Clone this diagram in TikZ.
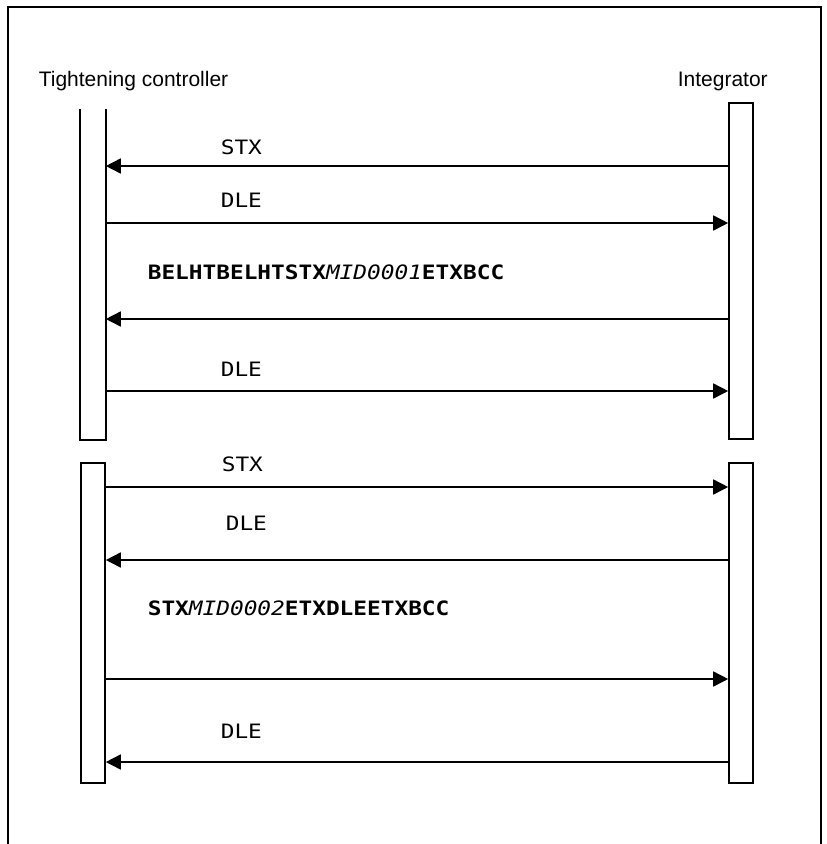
\documentclass[tikz,border=0pt]{standalone}
\usepackage{fontspec}
\setmainfont{Liberation Sans}
\newfontfamily\monof[FakeStretch=1.15]{DejaVu Sans Mono}
\usetikzlibrary{arrows.meta}
\begin{document}
\begin{tikzpicture}[x=1pt,y=-1pt,
  line width=1.6pt,
  lifebox/.style={draw, rectangle, minimum width=24pt, inner sep=0pt, fill=white},
  ghostbox/.style={rectangle, minimum width=24pt, inner sep=0pt},
  msg/.style={-{Triangle[length=15pt,width=15pt]}, line width=1.6pt},
  actor/.style={font=\fontsize{21}{24}\selectfont, anchor=base west, inner sep=0pt},
  lbl/.style={font=\monof\fontsize{19.8}{22}\selectfont, anchor=base west, inner sep=0pt}]
\useasboundingbox (0,0) rectangle (827,844);
% outer frame (open at bottom)
\draw (8,844) -- (8,7) -- (821,7) -- (821,844);
% actors
\node[actor] (tc) at (38,86) {Tightening controller};
\node[actor] (ig) at (677,86) {Integrator};
% activation boxes
\node[ghostbox, minimum height=329pt] (L1) at (93,274.5) {};
\draw (L1.north west) -- (L1.south west) -- (L1.south east) -- (L1.north east);
\node[lifebox, minimum height=336pt] (R1) at (741,271) {};
\node[lifebox, minimum height=320pt] (L2) at (93,623) {};
\node[lifebox, minimum height=320pt] (R2) at (741,623) {};
% messages, first session
\draw[msg] (R1.west |- 0,166) -- (L1.east |- 0,166);
\node[lbl] (m1) at (220,154) {STX};
\draw[msg] (L1.east |- 0,223) -- (R1.west |- 0,223);
\node[lbl] (m2) at (220,207) {DLE};
\node[lbl] (m3) at (147,279) {\textbf{BELHTBELHTSTX}\textit{MID0001}\textbf{ETXBCC}};
\draw[msg] (R1.west |- 0,319) -- (L1.east |- 0,319);
\node[lbl] (m4) at (220,376) {DLE};
\draw[msg] (L1.east |- 0,391) -- (R1.west |- 0,391);
% messages, second session
\node[lbl] (m5) at (221,471) {STX};
\draw[msg] (L2.east |- 0,487) -- (R2.west |- 0,487);
\node[lbl] (m6) at (225,530) {DLE};
\draw[msg] (R2.west |- 0,560) -- (L2.east |- 0,560);
\node[lbl] (m7) at (147,615) {\textbf{STX}\textit{MID0002}\textbf{ETXDLEETXBCC}};
\draw[msg] (L2.east |- 0,679) -- (R2.west |- 0,679);
\node[lbl] (m8) at (220,738) {DLE};
\draw[msg] (R2.west |- 0,762) -- (L2.east |- 0,762);
\end{tikzpicture}
\end{document}
